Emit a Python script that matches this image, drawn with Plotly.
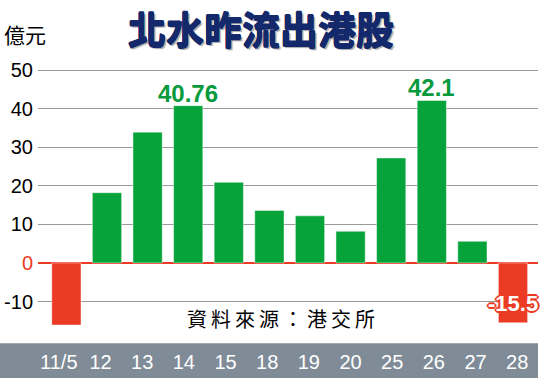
import plotly.graph_objects as go

W, H = 540, 378

categories = ["11/5", "12", "13", "14", "15", "18", "19", "20", "25", "26", "27", "28"]
values = [-16.1, 18.2, 33.9, 40.76, 20.9, 13.6, 12.2, 8.2, 27.2, 42.1, 5.6, -15.5]
y_ticks = [-10, 0, 10, 20, 30, 40, 50]
labelled = {"14": "40.76", "26": "42.1", "28": "-15.5"}

GREEN = "#06a33b"
RED = "#ec3b24"
SANS = "Liberation Sans, Arial, sans-serif"
CJK = "Noto Sans CJK TC, Noto Sans CJK SC, sans-serif"
NAVY = "#13296b"

def px_x(p):
    return p / W

def px_y(p):
    return 1 - p / H

colors = [GREEN if v >= 0 else RED for v in values]

fig = go.Figure()
fig.add_trace(go.Bar(
    x=categories, y=values, width=0.72,
    marker=dict(color=colors, line=dict(color="rgba(255,255,255,0.45)", width=1)),
    hoverinfo="skip", showlegend=False,
))
# invisible trace carrying the label axis in the grey strip
fig.add_trace(go.Scatter(
    x=categories, y=[None] * len(categories), xaxis="x2",
    mode="markers", hoverinfo="skip", showlegend=False,
))

tick_text = [('<span style="color:%s">%d</span>' % (RED, t)) if t == 0 else str(t) for t in y_ticks]

fig.update_layout(
    width=W, height=H,
    margin=dict(l=0, r=0, t=0, b=0),
    paper_bgcolor="white", plot_bgcolor="rgba(0,0,0,0)",
    xaxis=dict(
        type="category", categoryorder="array", categoryarray=categories,
        domain=[px_x(38), px_x(538)], range=[-0.6995, 11.6158],
        showticklabels=False, showgrid=False, zeroline=False, showline=False, ticks="",
    ),
    xaxis2=dict(
        type="category", categoryorder="array", categoryarray=categories,
        overlaying="x", anchor="free", position=px_y(348),
        domain=[px_x(43.3), px_x(515.7)], range=[-0.5, 11.5],
        showgrid=False, zeroline=False, showline=False, ticks="",
        tickfont=dict(family=SANS, size=20, color="white"),
    ),
    yaxis=dict(
        domain=[px_y(343), px_y(60)], range=[-20.85, 51.72],
        tickvals=y_ticks, ticktext=tick_text,
        tickfont=dict(family=SANS, size=20, color="black"),
        showgrid=True, gridcolor="#9a9a9a", gridwidth=1,
        zeroline=True, zerolinecolor=RED, zerolinewidth=1.5,
        showline=False, ticks="", ticklabelstandoff=4,
    ),
    shapes=[dict(
        type="rect", xref="paper", yref="paper",
        x0=0, x1=px_x(538), y0=0, y1=px_y(343),
        fillcolor="#7f8c98", line=dict(width=0), layer="below",
    )],
)

title_shadow = ", ".join(
    ["0.6px 0 0 %s" % NAVY, "-0.6px 0 0 %s" % NAVY, "0 0.6px 0 %s" % NAVY,
     "0 -0.6px 0 %s" % NAVY, "2px 2px 1px #a8a8a8"])

annotations = [
    dict(text="北水昨流出港股", xref="paper", yref="paper", x=px_x(261), y=px_y(24),
         xanchor="center", yanchor="middle", showarrow=False,
         font=dict(family=CJK, size=38, color=NAVY, weight="bold", shadow=title_shadow)),
    dict(text="億元", xref="paper", yref="paper", x=px_x(2), y=px_y(30),
         xanchor="left", yanchor="middle", showarrow=False,
         font=dict(family=CJK, size=21, color="black")),
    dict(text="資\u2009料\u2009來\u2009源\u2009：\u2009港\u2009交\u2009所", xref="paper", yref="paper",
         x=px_x(281), y=px_y(318), xanchor="center", yanchor="middle", showarrow=False,
         font=dict(family=CJK, size=20, color="black")),
]

outline = ", ".join("%s %s 0 %s" % (dx, dy, RED) for dx, dy in
                    [("1px", "1px"), ("-1px", "-1px"), ("1px", "-1px"), ("-1px", "1px"),
                     ("2px", "0"), ("-2px", "0"), ("0", "2px"), ("0", "-2px")])

for i, (cat, v) in enumerate(zip(categories, values)):
    if cat not in labelled:
        continue
    if v >= 0:
        annotations.append(dict(
            text=labelled[cat], x=i, y=v, xref="x", yref="y",
            xanchor="center", yanchor="bottom", yshift=-3, showarrow=False,
            font=dict(family=SANS, size=24, color="#079a3c", weight="bold"),
        ))
    else:
        annotations.append(dict(
            text=labelled[cat], x=i, y=v * 0.68, xref="x", yref="y",
            xanchor="left", xshift=-27, yanchor="middle", showarrow=False,
            font=dict(family=SANS, size=22, color="white", weight="bold", shadow=outline),
        ))

fig.update_layout(annotations=annotations)
fig.write_html(
    "out.html",
    config={"displayModeBar": False},
    post_script="document.body.style.margin='0';document.body.style.overflow='hidden';",
)
